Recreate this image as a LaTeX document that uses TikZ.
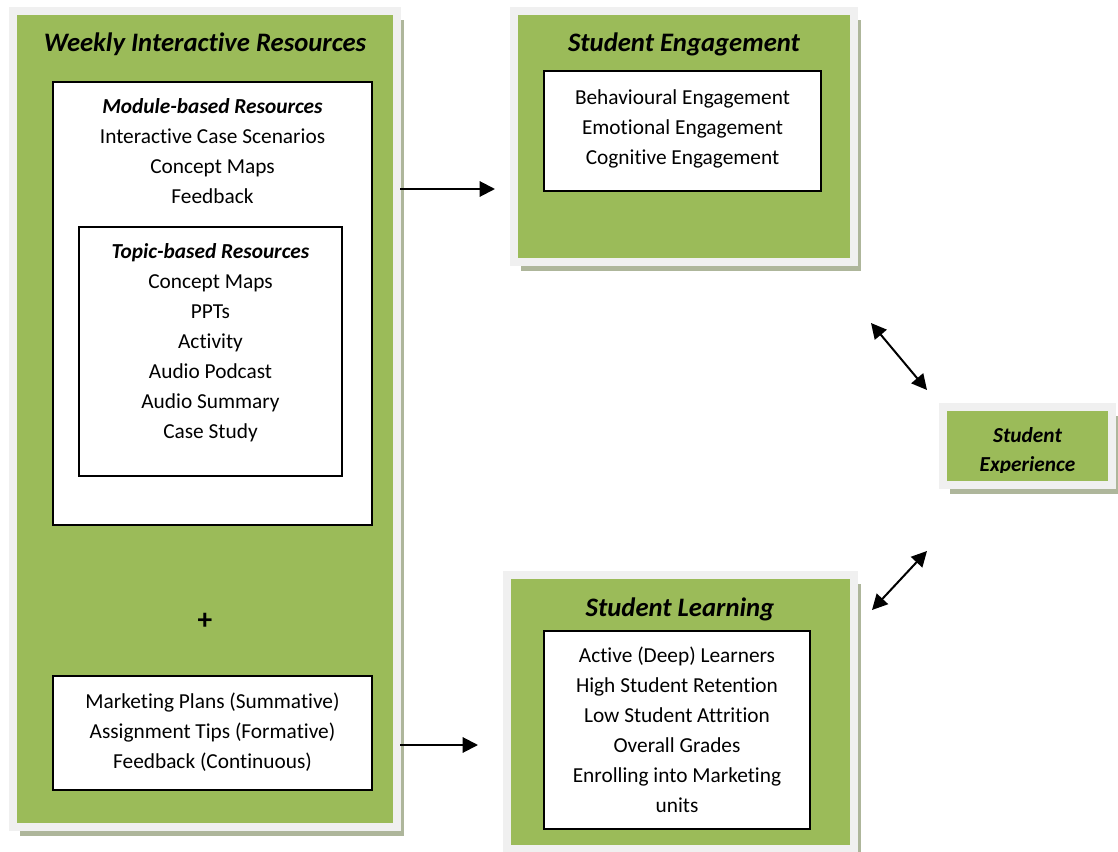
\documentclass[tikz,border=0pt]{standalone}
\usepackage{fontspec}
\setmainfont{Carlito}[Ligatures=NoCommon]
\usetikzlibrary{arrows.meta,shadows,calc}
\definecolor{pgreen}{HTML}{9BBB59}
\definecolor{pframe}{HTML}{F0F0F0}
\definecolor{pshadow}{HTML}{AEB69B}
\newcommand\sline{\rule[-6.75pt]{0pt}{22.5pt}}
\newcommand\xline{\rule[-6.5pt]{0pt}{21.75pt}}
\begin{document}
\begin{tikzpicture}[x=0.75pt,y=-0.75pt,
  panel/.style 2 args={fill=pgreen, draw=pframe, line width=6pt,
    minimum width=#1*0.75pt, minimum height=#2*0.75pt, inner sep=0pt, outer sep=0pt,
    general shadow={fill=pshadow, shadow xshift=4.9pt, shadow yshift=-6.4pt}},
  wbox/.style 2 args={fill=white, draw=black, line width=1.2pt,
    minimum width=#1*0.75pt, minimum height=#2*0.75pt, inner sep=0pt, outer sep=0pt},
  body/.style={font=\fontsize{16}{22.5}\selectfont, align=center, inner sep=0pt},
  ttl/.style={font=\fontsize{20}{24}\selectfont\bfseries\itshape, inner sep=0pt, anchor=base},
  sxt/.style={font=\fontsize{16}{21.75}\selectfont\bfseries\itshape, align=center, inner sep=0pt},
  arr/.style={line width=1.5pt, -{Triangle[length=11.5pt,width=11.5pt]}},
  dbl/.style={line width=1.5pt, {Triangle[length=11.5pt,width=11.5pt]}-{Triangle[length=11.5pt,width=11.5pt]}}
]
\clip (0,0) rectangle (1118,852);
\fill[white] (0,0) rectangle (1118,852);

% panels
\node[panel={384}{816}] (wir) at (205,419) {};
\node[panel={340}{251}] (se) at (684,136.5) {};
\node[panel={347}{274}] (sl) at (680.5,712) {};
\node[panel={169}{78}] (sx) at (1027.5,446) {};

% white boxes
\node[wbox={319}{443}] (mod) at (212.5,303.5) {};
\node[wbox={263}{249}] (top) at (210.5,351.5) {};
\node[wbox={319}{114}] (ass) at (212.5,733) {};
\node[wbox={277}{120}] (eng) at (682.5,131) {};
\node[wbox={266}{198}] (lrn) at (677,730) {};

% titles
\node[ttl] (wirT) at (205,51.5) {Weekly Interactive Resources};
\node[ttl] (seT) at (684,51.5) {Student Engagement};
\node[ttl] (slT) at (680,616.5) {Student Learning};

% texts
\node[body] (modT) at (212.5,152.5) {\sline\textbf{\textit{Module-based Resources}}\\
  \sline Interactive Case Scenarios\\ \sline Concept Maps\\ \sline Feedback};
\node[body] (topT) at (210.5,342.5) {\sline\textbf{\textit{Topic-based Resources}}\\
  \sline Concept Maps\\ \sline PPTs\\ \sline Activity\\ \sline Audio Podcast\\
  \sline Audio Summary\\ \sline Case Study};
\node[body, font=\fontsize{22}{22.5}\selectfont\bfseries] (plus) at (205,621) {+};
\node[body] (assT) at (212.5,732) {\sline Marketing Plans (Summative)\\
  \sline Assignment Tips (Formative)\\ \sline Feedback (Continuous)};
\node[body] (engT) at (682.5,128.5) {\sline Behavioural Engagement\\
  \sline Emotional Engagement\\ \sline Cognitive Engagement};
\node[body] (lrnT) at (677,731.5) {\sline Active (Deep) Learners\\
  \sline High Student Retention\\ \sline Low Student Attrition\\
  \sline Overall Grades\\ \sline Enrolling into Marketing\\ \sline units};
\begin{scope}
  \clip (940,404) rectangle (1116,472);
  \node[sxt] (sxT) at (1027.5,451) {\xline Student\\ \xline Experience};
\end{scope}

% connectors
\draw[arr, shorten <=2.25pt, shorten >=14.25pt] (wir.east |- 0,189) -- (se.west |- 0,189);
\draw[arr, shorten <=2.25pt, shorten >=21.75pt] (wir.east |- 0,745) -- (sl.west |- 0,745);
\coordinate (d1a) at (871,323);
\coordinate (d1b) at (927,390);
\coordinate (d2a) at (872,610);
\coordinate (d2b) at (927,551);
\draw[dbl] (d1a) -- (d1b);
\draw[dbl] (d2a) -- (d2b);
\end{tikzpicture}
\end{document}
